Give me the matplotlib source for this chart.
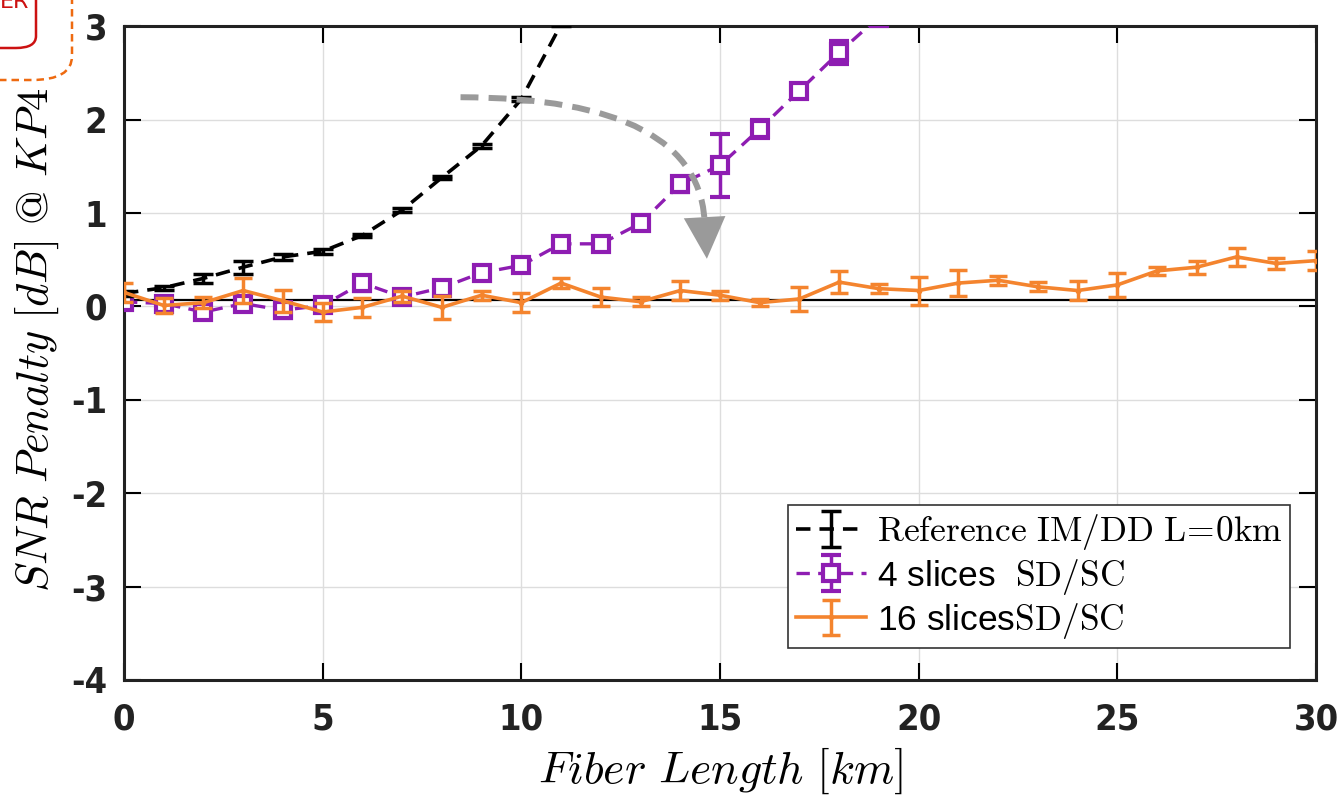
import numpy as np
import matplotlib.pyplot as plt
from matplotlib import font_manager
from matplotlib.patches import FancyArrowPatch, FancyBboxPatch

plt.rcParams['mathtext.fontset'] = 'cm'
plt.rcParams['axes.unicode_minus'] = False

# 数据
L_ref = [0, 1, 2, 3, 4, 5, 6, 7, 8, 9, 10, 11, 12]
snr_ref = [0.14, 0.2, 0.3, 0.42, 0.53, 0.59, 0.76, 1.03, 1.38, 1.72, 2.22, 3.02, 4.0]
err_ref = [0.03, 0.02, 0.05, 0.07, 0.03, 0.03, 0.02, 0.02, 0.02, 0.02, 0.02, 0.02, 0.02]

L_4 = list(range(0, 21))
snr_4 = [0.05, 0.03, -0.06, 0.03, -0.04, 0.01, 0.25, 0.1, 0.2, 0.36, 0.44,
         0.67, 0.67, 0.89, 1.31, 1.51, 1.9, 2.31, 2.72, 3.1, 3.6]
err_4 = [0.05, 0.05, 0.05, 0.05, 0.08, 0.03, 0.08, 0.06, 0.04, 0.04, 0.03,
         0.04, 0.03, 0.03, 0.08, 0.34, 0.1, 0.05, 0.12, 0.1, 0.1]

L_16 = list(range(0, 31))
snr_16 = [0.15, 0.01, 0.04, 0.17, 0.06, -0.06, -0.01, 0.11, -0.01, 0.12, 0.04,
          0.25, 0.1, 0.05, 0.17, 0.12, 0.04, 0.08, 0.26, 0.19, 0.17,
          0.25, 0.28, 0.21, 0.17, 0.23, 0.38, 0.42, 0.53, 0.46, 0.49]
err_16 = [0.1, 0.08, 0.06, 0.13, 0.12, 0.1, 0.1, 0.06, 0.12, 0.05, 0.1,
          0.05, 0.1, 0.05, 0.1, 0.05, 0.04, 0.13, 0.12, 0.05, 0.15,
          0.14, 0.05, 0.05, 0.1, 0.13, 0.04, 0.07, 0.1, 0.06, 0.1]

baseline = 0.07

C_PURPLE = '#8E1DB2'
C_ORANGE = '#F4842E'
C_ARROW = '#9A9A9A'

# 刻度字体: 有窄体就用窄体
names = set(f.name for f in font_manager.fontManager.ttflist)
tick_font = 'Liberation Sans Narrow' if 'Liberation Sans Narrow' in names else 'DejaVu Sans'
sans_font = 'Liberation Sans' if 'Liberation Sans' in names else 'DejaVu Sans'

fig = plt.figure(figsize=(13.42, 7.95), dpi=100)
ax = fig.add_axes([0.0924, 0.1447, 0.8882, 0.8223])

ax.errorbar(L_ref, snr_ref, yerr=err_ref, color='k', ls='--', lw=2.6,
            capsize=7, capthick=2.5, elinewidth=2.5, dashes=(4, 2.5),
            label=r'$\mathrm{Reference\ IM/DD\ L\!=\!0km}\ \ $', zorder=4)
ax.errorbar(L_4, snr_4, yerr=err_4, color=C_PURPLE, ls='--', lw=2.4,
            marker='s', ms=11, mfc='white', mec=C_PURPLE, mew=3,
            capsize=7, capthick=2.5, elinewidth=2.5, dashes=(4, 2.5),
            label=r'4 slices $\ \mathrm{SD/SC}$', zorder=3)
ax.errorbar(L_16, snr_16, yerr=err_16, color=C_ORANGE, ls='-', lw=2.6,
            marker='.', ms=6, capsize=6.5, capthick=2.5, elinewidth=2.5,
            label=r'16 slices$\mathrm{SD/SC}$', zorder=5)

ax.axhline(baseline, color='k', lw=1.6, zorder=2)

# 弯曲的虚线箭头 (虚线 + 实心箭头)
curve = FancyArrowPatch((8.4, 2.24), (14.62, 0.83), connectionstyle='angle3,angleA=0,angleB=90',
                        arrowstyle='-', color=C_ARROW, lw=4.3, ls=(0, (3, 1.7)),
                        capstyle='butt', zorder=6)
ax.add_patch(curve)
head = FancyArrowPatch((14.62, 0.9), (14.67, 0.51), arrowstyle='-|>,head_length=30,head_width=15',
                       mutation_scale=1, color=C_ARROW, lw=0, zorder=6,
                       shrinkA=0, shrinkB=0)
ax.add_patch(head)

ax.set_xlim(0, 30)
ax.set_ylim(-4, 3)
ax.set_xticks(range(0, 31, 5))
ax.set_yticks(range(-4, 4))
ax.grid(True, color='#dddddd', lw=1)
ax.tick_params(direction='in', length=12, width=1.5, top=True, right=True)
ax.tick_params(axis='x', pad=16)
ax.tick_params(axis='y', pad=12)
for s in ax.spines.values():
    s.set_linewidth(2.2)
    s.set_color('#222222')
for lab in ax.get_xticklabels() + ax.get_yticklabels():
    lab.set_family(tick_font)
    lab.set_fontstretch('condensed')
    lab.set_fontweight('bold')
    lab.set_fontsize(26)
    lab.set_color('#222222')

ax.set_xlabel(r'$Fiber\ Length\ [km]$', fontsize=33, labelpad=7)
ax.set_ylabel(r'$SNR\ Penalty\ [dB]\ @\ KP4$', fontsize=32)
ax.yaxis.set_label_coords(-0.053, 0.521)

leg = ax.legend(loc='lower right', bbox_to_anchor=(0.978, 0.049), borderaxespad=0,
                prop={'family': sans_font, 'size': 25.5},
                fancybox=False, edgecolor='#333333', framealpha=1,
                handlelength=2.0, borderpad=0.2, labelspacing=0.12, handletextpad=0.3)
leg.get_frame().set_linewidth(1.2)

# 左上角被截掉的标注框
fig.patches.append(FancyBboxPatch((-0.1, 1 - 80 / 795), 0.1 + 72 / 1342, 0.2,
                                  boxstyle='round,pad=0,rounding_size=0.03',
                                  transform=fig.transFigure, fill=False,
                                  ec='#EE6A10', lw=1.8, ls=(0, (3, 2))))
fig.patches.append(FancyBboxPatch((-0.1, 1 - 48 / 795), 0.1 + 36 / 1342, 0.2,
                                  boxstyle='round,pad=0,rounding_size=0.015',
                                  transform=fig.transFigure, fill=False,
                                  ec='#CC1111', lw=1.8))
fig.text(0.0, 1.0 + 8 / 795, 'ER', color='#CC1111', fontsize=16, ha='left', va='top')

plt.savefig('out.png', dpi=100)
